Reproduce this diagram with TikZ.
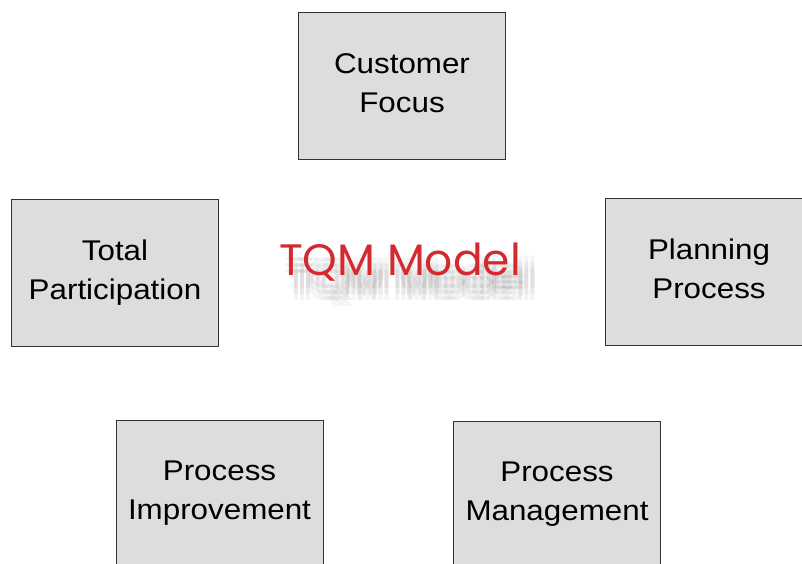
\documentclass[tikz,border=0pt]{standalone}
\usepackage{fontspec}
\setmainfont{Liberation Sans}[FakeStretch=1.1]
\newfontfamily\titlefont{Poppins}
\definecolor{boxfill}{HTML}{DCDDDF}
\definecolor{boxline}{HTML}{333333}
\definecolor{tqmred}{HTML}{D42A2F}
\begin{document}
\begin{tikzpicture}[x=1pt,y=-1pt,
  box/.style={draw=boxline,line width=1pt,fill=boxfill,rectangle,minimum width=207pt,minimum height=147pt,inner sep=0pt,align=center,font=\fontsize{28.5}{39}\selectfont},
  shadowtxt/.style={text=black,opacity=0.045,font=\titlefont\fontsize{44}{44}\selectfont,inner sep=0pt}]
\useasboundingbox (0,0) rectangle (802,563);
\clip (0,0) rectangle (802,563);
\node[box] (cf) at (402,85.5) {\raisebox{1.5pt}{\begin{tabular}{@{}c@{}}Customer\\[0pt]Focus\end{tabular}}};
\node[box] (tp) at (115,272.5) {Total\\Participation};
\node[box] (pp) at (709,271.5) {\raisebox{1.5pt}{\begin{tabular}{@{}c@{}}Planning\\Process\end{tabular}}};
\node[box] (pi) at (219.5,493.5) {Process\\Improvement};
\node[box] (pm) at (557,494.5) {Process\\Management};
\foreach \dx in {5,11,17} {
  \foreach \dy in {13,19,25} {
    \node[shadowtxt] at (400+\dx,262+\dy) {TQM Model};
  }
}
\node[inner sep=0pt,text=tqmred,font=\titlefont\fontsize{44}{44}\selectfont] (tqm) at (400,262) {TQM Model};
\end{tikzpicture}
\end{document}
